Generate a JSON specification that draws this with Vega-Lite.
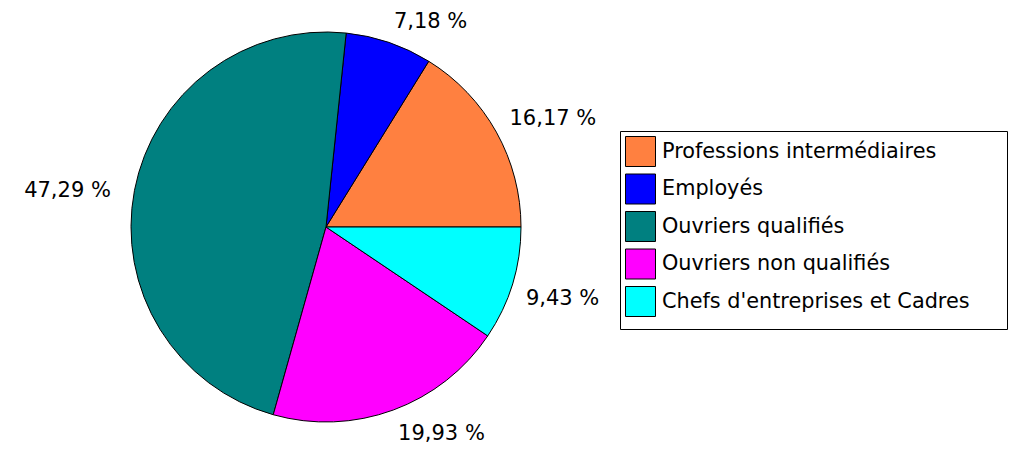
{
  "$schema": "https://vega.github.io/schema/vega-lite/v6.json",
  "width": 652,
  "height": 454,
  "autosize": {"type": "none"},
  "padding": {"left": 0, "top": 0, "right": 360, "bottom": 0},
  "background": "white",
  "config": {"view": {"stroke": null}, "font": "DejaVu Sans"},
  "data": {
    "values": [
      {"categorie": "Professions intermédiaires", "pct": 16.17, "ordre": 5, "label": "16,17 %"},
      {"categorie": "Employés", "pct": 7.18, "ordre": 4, "label": "7,18 %"},
      {"categorie": "Ouvriers qualifiés", "pct": 47.29, "ordre": 3, "label": "47,29 %"},
      {"categorie": "Ouvriers non qualifiés", "pct": 19.93, "ordre": 2, "label": "19,93 %"},
      {"categorie": "Chefs d'entreprises et Cadres", "pct": 9.43, "ordre": 1, "label": "9,43 %"}
    ]
  },
  "encoding": {
    "theta": {"field": "pct", "type": "quantitative", "stack": true, "scale": {"range": [1.5708, 7.854]}},
    "order": {"field": "ordre", "type": "quantitative", "sort": "ascending"}
  },
  "layer": [
    {
      "mark": {"type": "arc", "outerRadius": 195, "stroke": "black", "strokeWidth": 1},
      "encoding": {
        "color": {
          "field": "categorie",
          "type": "nominal",
          "scale": {
            "domain": ["Professions intermédiaires", "Employés", "Ouvriers qualifiés", "Ouvriers non qualifiés", "Chefs d'entreprises et Cadres"],
            "range": ["#FF8040", "#0000FF", "#008080", "#FF00FF", "#00FFFF"]
          },
          "legend": {
            "orient": "none",
            "legendX": 620,
            "legendY": 131,
            "title": [" ", " ", " ", " ", " ", " ", " ", " ", " ", " "],
            "titleOrient": "right",
            "titleFontSize": 10,
            "titleLineHeight": 19.2,
            "titleBaseline": "top",
            "titlePadding": 32,
            "strokeColor": "black",
            "fillColor": "white",
            "padding": 5,
            "symbolType": "square",
            "symbolSize": 900,
            "symbolStrokeColor": "black",
            "symbolStrokeWidth": 1,
            "symbolOpacity": 1,
            "labelFontSize": 20.8,
            "labelFont": "DejaVu Sans",
            "labelColor": "black",
            "labelOffset": 6,
            "rowPadding": 2.5,
            "labelLimit": 600
          }
        }
      }
    },
    {
      "mark": {"type": "text", "radius": 210, "dy": 4, "fontSize": 21, "color": "black", "font": "DejaVu Sans", "align": "left", "baseline": "bottom"},
      "encoding": {"text": {"condition": {"test": "datum.ordre >= 4", "field": "label"}, "value": ""}}
    },
    {
      "mark": {"type": "text", "radius": 209, "fontSize": 21, "color": "black", "font": "DejaVu Sans", "align": "left", "baseline": "top"},
      "encoding": {"text": {"condition": {"test": "datum.ordre <= 2", "field": "label"}, "value": ""}}
    },
    {
      "mark": {"type": "text", "radius": 219, "dy": 5, "fontSize": 21, "color": "black", "font": "DejaVu Sans", "align": "right", "baseline": "middle"},
      "encoding": {"text": {"condition": {"test": "datum.ordre == 3", "field": "label"}, "value": ""}}
    }
  ]
}
